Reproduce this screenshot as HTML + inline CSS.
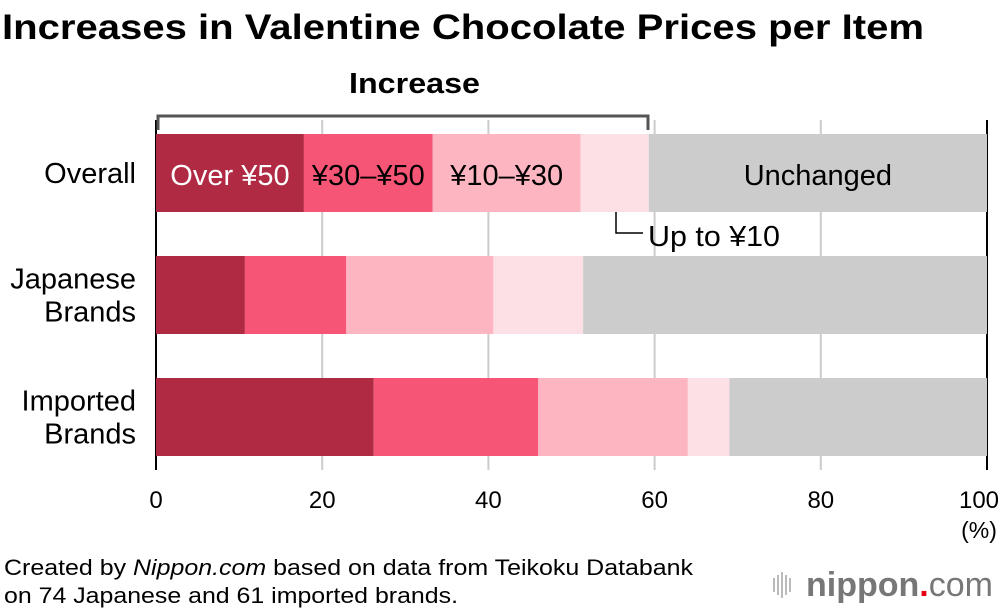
<!DOCTYPE html>
<html><head><meta charset="utf-8"><style>
body{margin:0;background:#fff;font-family:"Liberation Sans",sans-serif}
svg text{font-family:"Liberation Sans",sans-serif}
</style></head><body>
<svg width="1000" height="610" viewBox="0 0 1000 610">
<text x="2" y="39" font-size="35" font-weight="bold" fill="#000" textLength="922" lengthAdjust="spacingAndGlyphs">Increases in Valentine Chocolate Prices per Item</text>
<g id="grid"></g>
<g id="bars"></g>
<g id="labels"></g>
<text x="349" y="93" font-size="29" font-weight="bold" textLength="131" lengthAdjust="spacingAndGlyphs">Increase</text>
<path d="M158,130 V116 H648 V130" fill="none" stroke="#555" stroke-width="3"/>
<path d="M616,212 V233 H643" fill="none" stroke="#000" stroke-width="1.5"/>
<text x="648" y="246" font-size="29" textLength="132" lengthAdjust="spacingAndGlyphs">Up to ¥10</text>
<text x="979" y="538" font-size="23" text-anchor="middle">(%)</text>
<text x="4" y="575" font-size="22" textLength="689" lengthAdjust="spacingAndGlyphs">Created by <tspan font-style="italic">Nippon.com</tspan> based on data from Teikoku Databank</text>
<text x="4" y="603" font-size="22" textLength="454" lengthAdjust="spacingAndGlyphs">on 74 Japanese and 61 imported brands.</text>
<g>
<g stroke="#bbb" stroke-width="2"><line x1="774" y1="578" x2="774" y2="592"/><line x1="778" y1="575" x2="778" y2="595"/><line x1="782" y1="572" x2="782" y2="598"/><line x1="786" y1="575" x2="786" y2="595"/><line x1="790" y1="578" x2="790" y2="592"/></g>
<text x="806" y="596" font-size="34" fill="#777" font-weight="bold">nippon<tspan fill="#e60012">.</tspan><tspan font-weight="normal">com</tspan></text>
</g>
</svg>
<script>
const categories=["Overall","Japanese Brands","Imported Brands"];
const over50=[17.8,10.7,26.2];
const y30to50=[15.5,12.2,19.8];
const y10to30=[17.8,17.7,18.0];
const upTo10=[8.2,10.8,5.0];
const segNames=["Over ¥50","¥30–¥50","¥10–¥30","Up to ¥10","Unchanged"];
const ticks=[0,20,40,60,80,100];
const colors=["#b02a44","#f75575","#fdb5c1","#fde0e6","#cccccc"];
const NS="http://www.w3.org/2000/svg";
const x=v=>156+v*8.31;
const rowY=i=>134+i*122;
function mk(t,a,p){const e=document.createElementNS(NS,t);for(const k in a)e.setAttribute(k,a[k]);p.appendChild(e);return e;}
const grid=document.getElementById('grid'),bars=document.getElementById('bars'),labels=document.getElementById('labels');
ticks.forEach(t=>{
 const edge=(t===0||t===100);
 const l=mk('line',{x1:x(t),x2:x(t),y1:120,y2:470,stroke:edge?'#000':'#ccc','stroke-width':2},grid);
 
 
 const tx=mk('text',{x:x(t)-(t===100?8:0),y:508,'font-size':24,'text-anchor':'middle'},labels);
 tx.textContent=t;
 
 
});
categories.forEach((c,i)=>{
 const vals=[over50[i],y30to50[i],y10to30[i],upTo10[i]];
 vals.push(100-vals.reduce((a,b)=>a+b,0));
 let acc=0;
 vals.forEach((v,j)=>{
  const r=mk('rect',{x:x(acc),y:rowY(i),width:x(acc+v)-x(acc),height:78,fill:colors[j]},bars);
  
  
  if(i===0&&j!==3){
   const t=mk('text',{x:(x(acc)+x(acc+v))/2,y:rowY(i)+51,'font-size':29,'text-anchor':'middle',fill:j===0?'#fff':'#000'},labels);
   t.textContent=segNames[j];
   
   
  }
  acc+=v;
 });
 const parts=c.split(' ');
 const cy=rowY(i)+39;
 parts.forEach((p,k)=>{
  const t=mk('text',{x:136,y:cy+10+(k-(parts.length-1)/2)*33,'font-size':29,'text-anchor':'end'},labels);
  t.textContent=p;
  
  
 });
});
</script>
</body></html>
